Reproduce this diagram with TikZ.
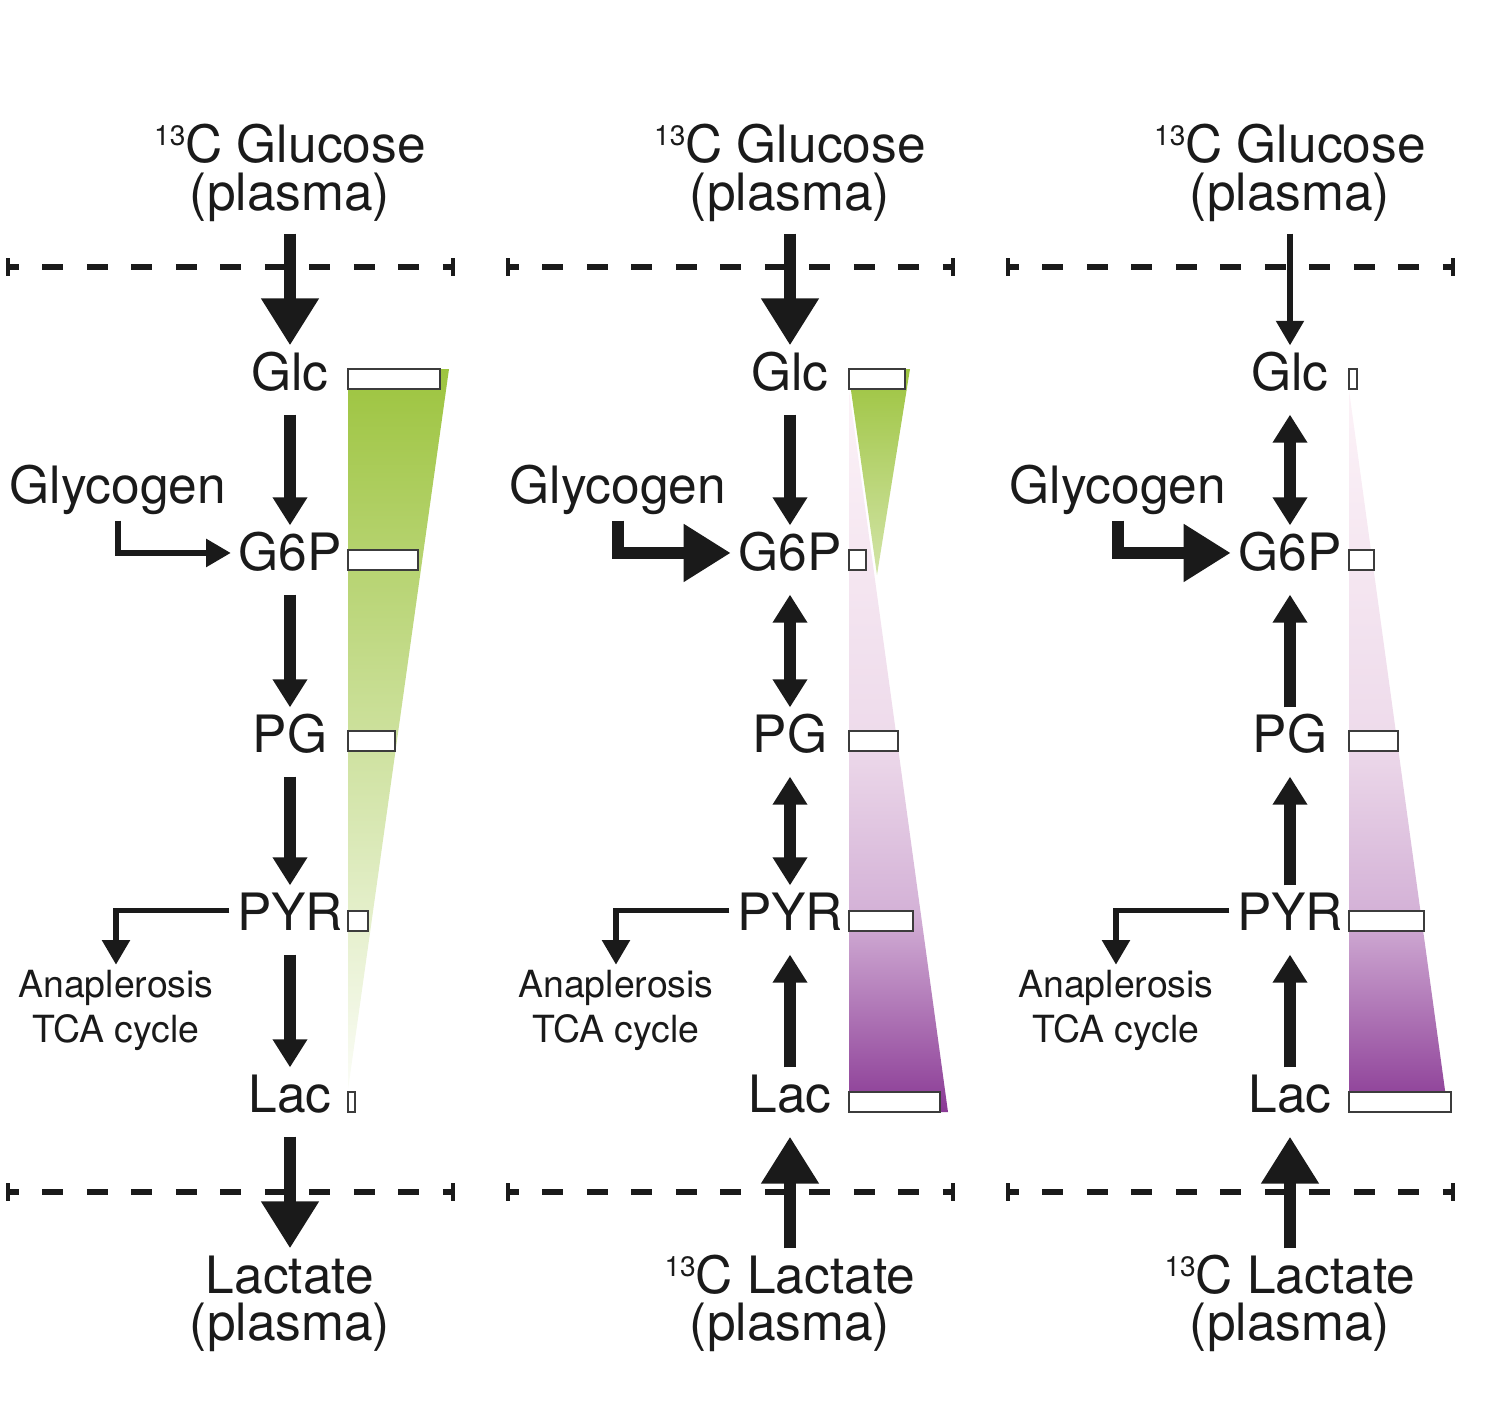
\documentclass[tikz,border=0pt]{standalone}
\usepackage{fontspec}
\setmainfont{TeX Gyre Heros}
\usetikzlibrary{arrows.meta}

\definecolor{ink}{HTML}{1A1A1A}
\definecolor{boxline}{HTML}{3C3C3C}
\definecolor{leaf}{HTML}{9DC43F}
\definecolor{plum}{HTML}{8A3A95}
\definecolor{plummid}{HTML}{D4B2D7}
\definecolor{plumlight}{HTML}{EEDBEB}
\definecolor{plumpale}{HTML}{FCF2F7}
\pgfdeclareverticalshading{plumfade}{100bp}{color(0bp)=(plum); color(25bp)=(plum); color(39bp)=(plummid); color(51bp)=(plumlight); color(75bp)=(plumpale); color(100bp)=(plumpale)}

\newcommand{\labfont}{\fontsize{14.65pt}{17pt}\selectfont}
\newcommand{\anafont}{\fontsize{10.65pt}{12.6pt}\selectfont}
\newcommand{\iso}[1]{\raisebox{4.8pt}{\fontsize{8pt}{8pt}\selectfont #1}}

\begin{document}
\begin{tikzpicture}[x=0.1mm, y=-0.1mm, color=ink,
	met/.style={font=\labfont, anchor=base, inner xsep=2pt, inner ysep=0pt, text height=12.5pt, text depth=6.8pt},
	plab/.style={font=\labfont, anchor=base, inner sep=0pt, text height=12.5pt, text depth=6.5pt},
	side/.style={font=\anafont, anchor=base, inner sep=0pt, text height=9pt},
	lvl/.style={draw=boxline, fill=white, line width=0.6pt},
	membrane/.style={line width=1.6pt, dash pattern=on 5.97pt off 6.69pt, dash phase=2.85pt},
	flux/.style={line width=3.4pt, -{Triangle[width=9.4pt, length=8pt]}},
	fluxboth/.style={line width=3.4pt, {Triangle[width=9.4pt, length=8pt]}-{Triangle[width=9.4pt, length=8pt]}},
	bigflux/.style={line width=3.4pt, -{Triangle[width=15.6pt, length=13.4pt]}},
	thinflux/.style={line width=1.5pt, -{Triangle[width=7.7pt, length=7pt]}}]
	\useasboundingbox (0,0) rectangle (1490,1418);
	
	%labelling gradients
	\shade[top color=leaf, bottom color=leaf!4] (348,369) -- (449,369) -- (348,1090) -- cycle;
	\shade[shading=plumfade] (849,390) -- (948,1112) -- (849,1112) -- cycle;
	\shade[top color=leaf, bottom color=leaf!45] (848,369) -- (910,369) -- (877,575) -- cycle;
	\shade[shading=plumfade] (1349,390) -- (1448,1112) -- (1349,1112) -- cycle;
	
	%level bars
	\foreach \y/\wa/\wb/\wc in {389/92/56/8, 570/70/17/25, 751/47/49/49, 931/20/64/75, 1112/7/91/102}{
		\draw[lvl] (348,\y) rectangle ++(\wa,-20);
		\draw[lvl] (849,\y) rectangle ++(\wb,-20);
		\draw[lvl] (1349,\y) rectangle ++(\wc,-20);
	}
	
	\foreach \p in {0,1,2}{
		%membranes
		\draw[membrane] (8+500*\p,267) -- (453+500*\p,267);
		\draw[membrane] (8+500*\p,1192) -- (453+500*\p,1192);
		\foreach \x in {8,453}{
			\draw[line width=0.9pt] (\x+500*\p,258)--(\x+500*\p,276);
			\draw[line width=0.9pt] (\x+500*\p,1183)--(\x+500*\p,1201);
		}
		
		%metabolites
		\node (glu\p) at (290+500*\p,162) [plab]{\iso{13}C Glucose};
		\node (gpl\p) at (290+500*\p,210) [plab]{(plasma)};
		\foreach \n/\lbl/\y in {glc/Glc/390, g6p/G6P/570, pg/PG/752, pyr/PYR/930, lac/Lac/1112}{
			\node (\n\p) at (290+500*\p,\y) [met]{\lbl};
		}
		\node (gly\p) at (118+500*\p,503) [met, text depth=4.8pt]{Glycogen};
		\node (ana\p) at (116+500*\p,997) [side]{Anaplerosis};
		\node (tca\p) at (116+500*\p,1042) [side]{TCA cycle};
		\node (lpl\p) at (290+500*\p,1340) [plab]{(plasma)};
		
		%side fluxes
		\draw[thinflux] ([yshift=2.6pt]pyr\p.west) -| (ana\p.north);
	}
	\node (lact0) at (290,1293) [plab]{Lactate};
	\node (lact1) at (790,1293) [plab]{\iso{13}C Lactate};
	\node (lact2) at (1290,1293) [plab]{\iso{13}C Lactate};
	
	%glucose infusion
	\draw[bigflux] (gpl0.south) -- (glc0.north);
	\draw[flux] (glc0.south) -- (g6p0.north);
	\draw[flux] (g6p0.south) -- (pg0.north);
	\draw[flux] (pg0.south) -- (pyr0.north);
	\draw[flux] (pyr0.south) -- (lac0.north);
	\draw[bigflux] (lac0.south) -- (lact0.north);
	\draw[thinflux] (gly0.south) |- ([yshift=2pt]g6p0.west);
	
	%glucose and lactate infusion
	\draw[bigflux] (gpl1.south) -- (glc1.north);
	\draw[flux] (glc1.south) -- (g6p1.north);
	\draw[fluxboth] (g6p1.south) -- (pg1.north);
	\draw[fluxboth] (pg1.south) -- (pyr1.north);
	\draw[flux] (lac1.north) -- (pyr1.south);
	\draw[bigflux] (lact1.north) -- (lac1.south);
	\draw[bigflux] (gly1.south) |- ([yshift=2pt]g6p1.west);
	
	%lactate infusion
	\draw[thinflux] (gpl2.south) -- (glc2.north);
	\draw[fluxboth] (glc2.south) -- (g6p2.north);
	\draw[flux] (pg2.north) -- (g6p2.south);
	\draw[flux] (pyr2.north) -- (pg2.south);
	\draw[flux] (lac2.north) -- (pyr2.south);
	\draw[bigflux] (lact2.north) -- (lac2.south);
	\draw[bigflux] (gly2.south) |- ([yshift=2pt]g6p2.west);
\end{tikzpicture}
\end{document}
